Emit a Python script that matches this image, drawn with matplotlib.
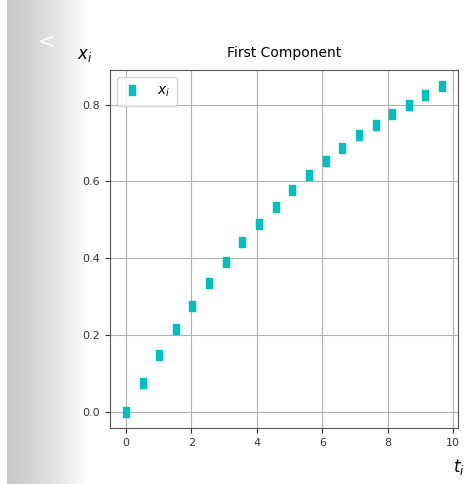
import numpy as np
import matplotlib
matplotlib.use("Agg")
import matplotlib.pyplot as plt

# sample times and first component values
t = [0.00, 0.51, 1.02, 1.53, 2.03, 2.54, 3.05, 3.56, 4.07, 4.58,
     5.08, 5.59, 6.10, 6.61, 7.12, 7.63, 8.13, 8.64, 9.15, 9.66]
x = [0.000, 0.076, 0.147, 0.215, 0.275, 0.336, 0.389, 0.441, 0.489, 0.534,
     0.579, 0.616, 0.654, 0.686, 0.720, 0.747, 0.775, 0.800, 0.825, 0.848]

W, H = 467, 484
fig = plt.figure(figsize=(W / 100, H / 100), dpi=100, facecolor="white")

# grey side panel with the carousel arrow
side = fig.add_axes([7 / W, 0, 80 / W, 1])
grad = 0.79 + 0.21 * np.linspace(0, 1, 256) ** 1.4
side.imshow(np.dstack([grad, grad, grad]).reshape(1, -1, 3), aspect="auto",
            extent=[0, 1, 0, 1])
side.axis("off")
fig.text(47 / W, 1 - 42 / H, "<", color="white", fontsize=15,
         ha="center", va="center")

# narrow upright box marker
box = [(-0.36, -0.5), (0.36, -0.5), (0.36, 0.5), (-0.36, 0.5), (-0.36, -0.5)]

ax = fig.add_axes([110 / W, 1 - 428 / H, 348 / W, 358 / H])
ax.plot(t, x, ls="none", marker=box, color="#00bfbf", ms=7, label="$x_i$")
ax.set_title("First Component", fontsize=10, pad=9)
ax.set_xticks([0, 2, 4, 6, 8, 10])
ax.set_yticks([0.0, 0.2, 0.4, 0.6, 0.8])
ax.tick_params(labelsize=8, colors="#333333")
ax.grid(True, color="#b0b0b0", lw=0.8)
for s in ax.spines.values():
    s.set_color("#555555")

fig.text(465 / W, 1 - 467 / H, "$t_i$", fontsize=12, ha="right", va="center")
fig.text(85 / W, 1 - 55 / H, "$x_i$", fontsize=12, ha="center", va="center")

ax.legend(loc="upper left", fontsize=10, handlelength=1.2, borderpad=0.5,
          handletextpad=1.2)

fig.savefig("out.png", dpi=100, facecolor="white")
